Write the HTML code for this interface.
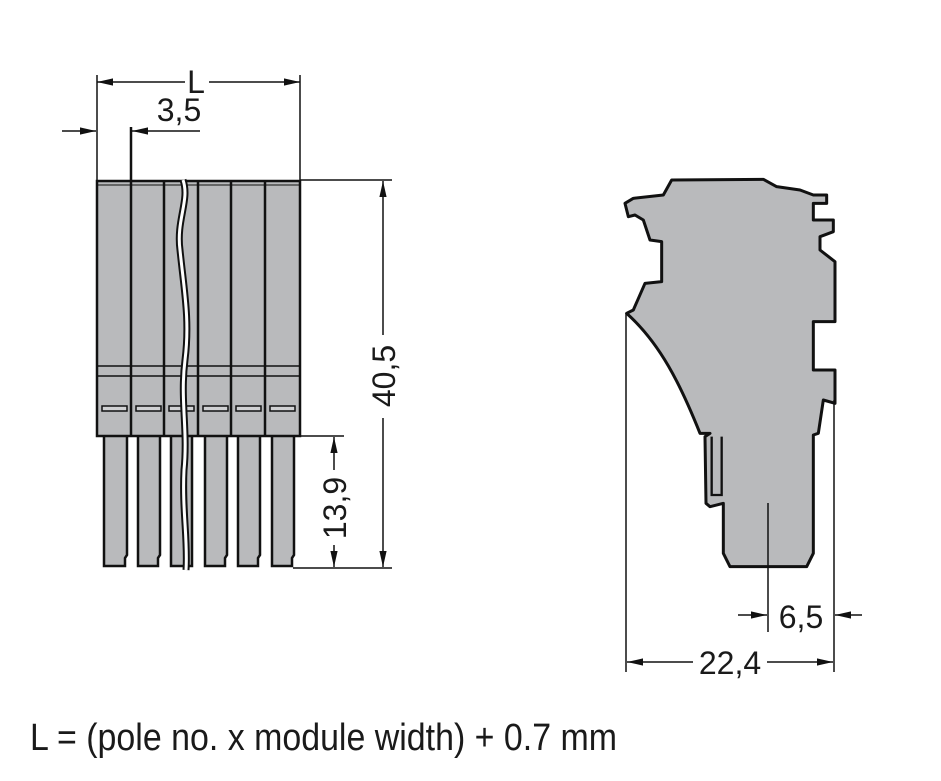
<!DOCTYPE html>
<html><head><meta charset="utf-8"><style>
html,body{margin:0;padding:0;background:#fff;width:941px;height:781px;overflow:hidden}
svg{display:block}
text{font-family:"Liberation Sans",sans-serif;fill:#1a1a1a}
</style></head><body>
<svg width="941" height="781" viewBox="0 0 941 781" xmlns="http://www.w3.org/2000/svg">
<defs>
<marker id="b" viewBox="0 0 20 10" refX="20" refY="5" markerWidth="20" markerHeight="8" markerUnits="userSpaceOnUse" orient="auto-start-reverse">
<path d="M0,0.5 L20,5 L0,9.5 z" fill="#111"/></marker>
</defs>
<g fill="#b9babc" stroke="#111" stroke-width="2.5">
<path d="M104,436 V566 H125 V558 L127,555 V436"/>
<path d="M138,436 V566 H158 V558 L160,555 V436"/>
<path d="M171,436 V566 H192 V436"/>
<path d="M205,436 V566 H225 V558 L227,555 V436"/>
<path d="M238,436 V566 H258 V558 L260,555 V436"/>
<path d="M272,436 V566 H292 V558 L294,555 V436"/>
</g>
<rect x="97" y="181" width="203" height="255" fill="#b9babc" stroke="#111" stroke-width="2.5"/>
<g stroke="#111" stroke-width="2.5">
<line x1="97" y1="366" x2="300" y2="366" stroke-width="1.5"/>
<line x1="97" y1="376" x2="300" y2="376" stroke-width="1.5"/>
<line x1="131" y1="127" x2="131" y2="436"/>
<line x1="164" y1="181" x2="164" y2="436"/>
<line x1="198" y1="181" x2="198" y2="436"/>
<line x1="231" y1="181" x2="231" y2="436"/>
<line x1="265" y1="181" x2="265" y2="436"/>
<line x1="97" y1="185" x2="300" y2="185" stroke-width="1"/>
</g>
<g fill="#d0d1d3" stroke="#111" stroke-width="1.5">
<rect x="102" y="406" width="25" height="5"/><rect x="136" y="406" width="25" height="5"/>
<rect x="169" y="406" width="25" height="5"/><rect x="203" y="406" width="25" height="5"/>
<rect x="236" y="406" width="25" height="5"/><rect x="270" y="406" width="25" height="5"/>
</g>
<path d="M183,180 C190,200 176,220 180,250 C184,290 190,320 185,360 C180,400 188,430 184,470 C182,510 188,540 186,570" fill="none" stroke="#111" stroke-width="7"/>
<path d="M183,180 C190,200 176,220 180,250 C184,290 190,320 185,360 C180,400 188,430 184,470 C182,510 188,540 186,570" fill="none" stroke="#fff" stroke-width="3"/>
<g stroke="#111" stroke-width="1.5" fill="none">
<line x1="97" y1="75" x2="97" y2="180"/><line x1="300" y1="75" x2="300" y2="180"/>
<line x1="97" y1="82" x2="185" y2="82" marker-start="url(#b)"/>
<line x1="209" y1="82" x2="300" y2="82" marker-end="url(#b)"/>
<line x1="62" y1="131" x2="96" y2="131" marker-end="url(#b)"/>
<line x1="132" y1="131" x2="200" y2="131" marker-start="url(#b)"/>
<line x1="300" y1="180" x2="392" y2="180"/>
<line x1="293" y1="568" x2="392" y2="568"/>
<line x1="300" y1="436" x2="344" y2="436"/>
<line x1="383" y1="181" x2="383" y2="335" marker-start="url(#b)"/>
<line x1="383" y1="418" x2="383" y2="567" marker-end="url(#b)"/>
<line x1="334" y1="437" x2="334" y2="470" marker-start="url(#b)"/>
<line x1="334" y1="545" x2="334" y2="567" marker-end="url(#b)"/>
</g>
<text x="196" y="93" font-size="32" text-anchor="middle">L</text>
<text x="179" y="121" font-size="32" text-anchor="middle">3,5</text>
<text transform="translate(395,376) rotate(-90)" font-size="32" text-anchor="middle">40,5</text>
<text transform="translate(346,508) rotate(-90)" font-size="32" text-anchor="middle">13,9</text>
<g transform="translate(600,170) scale(0.33333)">
<path d="M215,30 L490,28 L530,50 L600,60 L640,75 L680,75 L680,100 L640,100 L640,150 L700,150 L700,185 L660,200 L660,240 L705,275 L705,455 L640,455 L640,600 L705,600 L705,700 L670,690 L655,790 L640,795 L640,1150 L620,1190 L390,1190 L370,1150 L370,1000 L330,1010 L318,1000 L315,800 L330,790 L300,790 C240,640 180,520 80,430 L100,420 L135,340 L185,335 L185,215 L150,210 L130,150 L105,135 L85,140 L75,100 L100,85 L190,75 Z" fill="#b9babc" stroke="#111" stroke-width="9" stroke-linejoin="round"/>
<path d="M335,800 L335,975 L365,975 L365,800" fill="none" stroke="#111" stroke-width="7"/>
</g>
<g stroke="#111" stroke-width="1.5" fill="none">
<line x1="626" y1="313" x2="626" y2="672"/>
<line x1="834" y1="400" x2="834" y2="672"/>
<line x1="768" y1="503" x2="768" y2="632"/>
<line x1="627" y1="662" x2="693" y2="662" marker-start="url(#b)"/>
<line x1="767" y1="662" x2="833" y2="662" marker-end="url(#b)"/>
<line x1="738" y1="615" x2="767" y2="615" marker-end="url(#b)"/>
<line x1="835" y1="615" x2="862" y2="615" marker-start="url(#b)"/>
</g>
<text x="730" y="674" font-size="32" text-anchor="middle">22,4</text>
<text x="801" y="628" font-size="32" text-anchor="middle">6,5</text>
<text x="30" y="750" font-size="38" textLength="587" lengthAdjust="spacingAndGlyphs">L = (pole no. x module width) + 0.7 mm</text>
</svg>
</body></html>
